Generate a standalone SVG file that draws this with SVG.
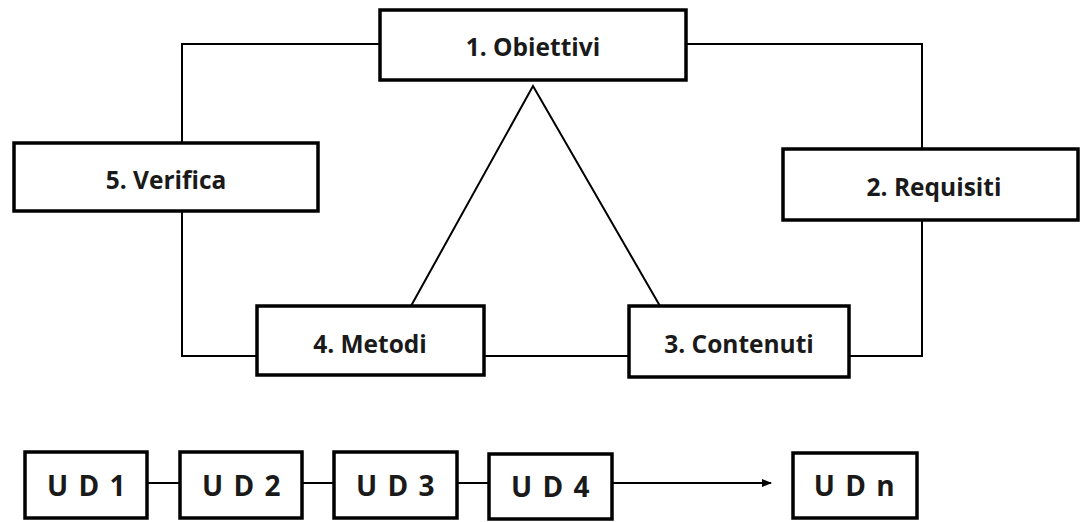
<svg xmlns="http://www.w3.org/2000/svg" width="1081" height="522" viewBox="0 0 1081 522">
<style>
.box{fill:#fff;stroke:#000;stroke-width:3.5}
.ln{fill:none;stroke:#000;stroke-width:2}
.t{font-family:"Open Sans","Liberation Sans",sans-serif;font-weight:700;font-size:24.5px;fill:#1a1a1a;text-anchor:middle;dominant-baseline:central}
.u{font-family:"Open Sans","Liberation Sans",sans-serif;font-weight:700;font-size:28px;fill:#1a1a1a;text-anchor:middle;dominant-baseline:central;letter-spacing:1.5px}
</style>
<defs>
<marker id="ah" markerWidth="10" markerHeight="8" refX="9" refY="4" orient="auto" markerUnits="userSpaceOnUse">
<path d="M0,0 L10,4 L0,8 Z" fill="#000"/>
</marker>
</defs>
<g id="connectors">
<polyline class="ln" points="380,44 182,44 182,143"/>
<polyline class="ln" points="182,211 182,356 257,356"/>
<line class="ln" x1="484" y1="356" x2="629" y2="356"/>
<polyline class="ln" points="849,356 922,356 922,220"/>
<polyline class="ln" points="922,149 922,44 686,44"/>
<polyline class="ln" points="411,306 533,86 660,306"/>
<line class="ln" x1="147" y1="483" x2="180" y2="483"/>
<line class="ln" x1="302" y1="483" x2="334" y2="483"/>
<line class="ln" x1="457" y1="483" x2="489" y2="483"/>
<line class="ln" x1="612" y1="483" x2="771" y2="483" marker-end="url(#ah)"/>
</g>
<g id="n1"><rect class="box" x="380" y="10" width="306" height="70"/><text class="t" x="533" y="46">1. Obiettivi</text></g>
<g id="n2"><rect class="box" x="783" y="149" width="295" height="71"/><text class="t" x="934" y="186">2. Requisiti</text></g>
<g id="n3"><rect class="box" x="629" y="306" width="220" height="71"/><text class="t" x="739" y="343">3. Contenuti</text></g>
<g id="n4"><rect class="box" x="257" y="306" width="227" height="69"/><text class="t" x="370" y="343">4. Metodi</text></g>
<g id="n5"><rect class="box" x="14" y="143" width="304" height="68"/><text class="t" x="166" y="179">5. Verifica</text></g>
<g id="ud1"><rect class="box" x="25" y="452" width="122" height="66"/><text class="u" x="87" y="485">U D 1</text></g>
<g id="ud2"><rect class="box" x="180" y="452" width="122" height="66"/><text class="u" x="242" y="485">U D 2</text></g>
<g id="ud3"><rect class="box" x="334" y="452" width="123" height="66"/><text class="u" x="396" y="485">U D 3</text></g>
<g id="ud4"><rect class="box" x="489" y="454" width="123" height="65"/><text class="u" x="551" y="486">U D 4</text></g>
<g id="udn"><rect class="box" x="793" y="453" width="124" height="65"/><text class="u" x="855" y="485">U D n</text></g>
</svg>
